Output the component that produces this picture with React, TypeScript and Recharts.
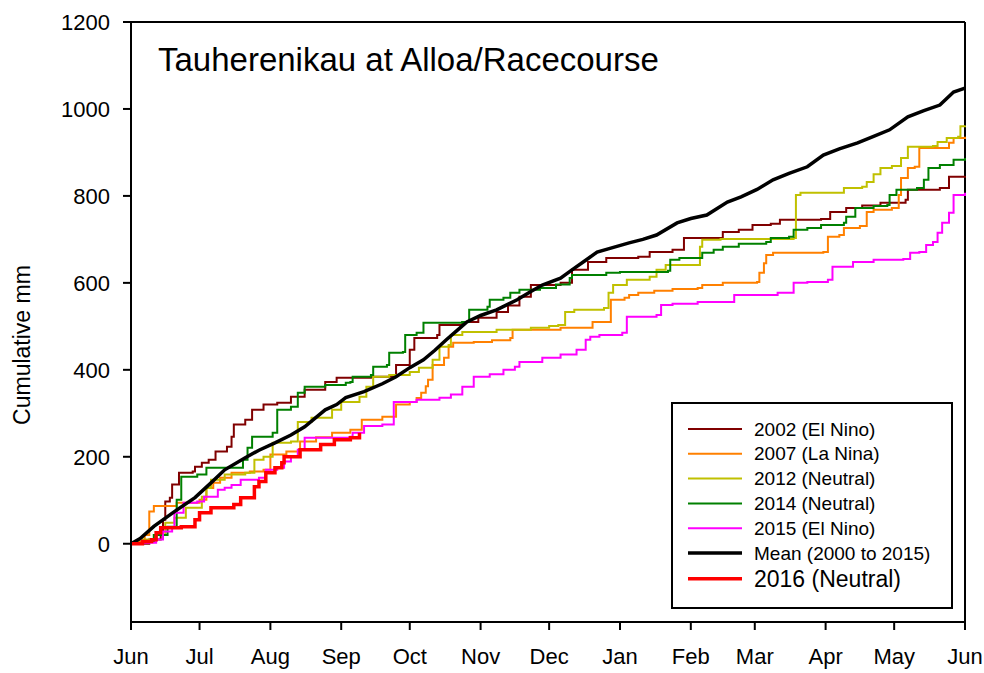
import { LineChart, Line, XAxis, YAxis, ReferenceLine, Legend } from 'recharts';

// day of season (0 = 1 June) vs cumulative rainfall (mm)
const monthTicks = [0, 30, 61, 92, 122, 153, 183, 214, 245, 273, 304, 334, 365];
const monthLabels = ['Jun', 'Jul', 'Aug', 'Sep', 'Oct', 'Nov', 'Dec', 'Jan', 'Feb', 'Mar', 'Apr', 'May', 'Jun'];
const mmTicks = [0, 200, 400, 600, 800, 1000, 1200];

const y2002: [number, number][] = [
  [0, 0], [8, 10], [13, 30], [14, 55], [15, 97], [17, 106], [18, 136], [21, 163], [27, 166], [28, 177],
  [31, 186], [34, 193], [37, 212], [42, 223], [44, 246], [45, 274], [50, 285], [53, 308], [58, 320],
  [64, 324], [70, 338], [76, 354], [85, 372], [90, 382], [105, 384], [116, 411], [122, 446], [124, 473],
  [134, 480], [135, 503], [145, 510], [152, 520], [160, 533], [165, 548], [170, 568], [175, 595],
  [188, 600], [193, 630], [200, 648], [208, 657], [222, 660], [227, 671], [237, 676], [242, 703],
  [258, 703], [259, 717], [266, 722], [272, 733], [280, 736], [284, 745], [302, 747], [306, 763],
  [313, 772], [320, 778], [328, 784], [339, 791], [340, 814], [354, 818], [358, 844], [365, 846],
];

const y2007: [number, number][] = [
  [0, 0], [3, 5], [6, 20], [8, 74], [10, 87], [20, 94], [30, 101], [33, 128], [36, 140], [39, 152],
  [44, 163], [52, 166], [58, 170], [61, 205], [68, 212], [74, 235], [81, 245], [88, 255], [96, 262],
  [101, 285], [110, 292], [116, 320], [122, 326], [125, 335], [127, 347], [129, 362], [130, 377],
  [132, 411], [137, 428], [139, 453], [141, 462], [150, 464], [158, 468], [166, 473], [167, 492],
  [188, 497], [200, 497], [202, 510], [209, 510], [210, 561], [216, 566], [218, 572], [222, 577],
  [229, 582], [237, 586], [248, 588], [250, 595], [259, 600], [274, 602], [275, 623], [277, 645],
  [278, 664], [281, 669], [303, 671], [305, 706], [310, 710], [312, 726], [319, 731], [322, 763],
  [325, 768], [333, 772], [336, 802], [337, 841], [340, 864], [343, 867], [345, 910], [354, 910],
  [358, 922], [360, 933], [365, 936],
];

const y2012: [number, number][] = [
  [0, 0], [5, 10], [10, 20], [15, 48], [19, 60], [24, 83], [31, 108], [33, 128], [35, 147], [41, 159],
  [50, 163], [54, 193], [58, 200], [62, 232], [70, 235], [73, 280], [79, 290], [88, 308], [92, 326],
  [100, 338], [103, 361], [106, 384], [113, 388], [122, 395], [126, 405], [132, 423], [135, 453],
  [139, 457], [140, 480], [145, 487], [160, 492], [175, 497], [183, 501], [187, 503], [190, 533],
  [194, 538], [207, 542], [209, 577], [211, 595], [217, 607], [227, 614], [230, 630], [234, 641],
  [247, 641], [249, 683], [250, 699], [258, 701], [290, 703], [291, 802], [293, 807], [309, 807],
  [312, 818], [320, 821], [322, 832], [325, 850], [328, 864], [333, 869], [337, 887], [340, 913],
  [351, 915], [353, 924], [357, 933], [362, 936], [363, 960], [365, 962],
];

const y2014: [number, number][] = [
  [0, 0], [5, 5], [10, 20], [16, 39], [18, 39], [20, 101], [22, 154], [29, 159], [33, 175], [42, 175],
  [49, 193], [51, 221], [53, 246], [62, 255], [64, 308], [70, 315], [73, 347], [76, 361], [85, 365],
  [94, 370], [96, 372], [97, 384], [105, 388], [106, 407], [112, 411], [113, 439], [119, 441],
  [120, 480], [125, 485], [128, 508], [145, 510], [148, 538], [156, 545], [157, 561], [163, 566],
  [166, 577], [170, 584], [179, 588], [186, 596], [192, 611], [193, 618], [208, 623], [214, 625],
  [235, 628], [236, 653], [240, 657], [249, 657], [250, 669], [255, 676], [259, 683], [266, 690],
  [278, 694], [280, 703], [288, 706], [290, 722], [296, 726], [302, 733], [312, 738], [313, 752],
  [317, 772], [325, 777], [331, 779], [332, 802], [335, 814], [344, 818], [347, 837], [349, 864],
  [354, 871], [360, 883], [365, 887],
];

const y2015: [number, number][] = [
  [0, 0], [5, 2], [11, 10], [14, 28], [18, 37], [19, 71], [23, 94], [29, 97], [32, 108], [38, 124],
  [41, 129], [44, 135], [48, 147], [56, 152], [59, 170], [64, 175], [67, 189], [70, 202], [73, 216],
  [76, 244], [96, 246], [97, 255], [102, 271], [110, 274], [115, 326], [125, 331], [135, 336],
  [140, 343], [145, 361], [150, 384], [157, 390], [163, 400], [168, 407], [170, 418], [180, 428],
  [188, 435], [195, 446], [199, 469], [201, 476], [205, 480], [215, 485], [217, 522], [230, 526],
  [232, 549], [237, 552], [248, 556], [262, 556], [264, 572], [283, 577], [290, 600], [296, 602],
  [305, 607], [307, 637], [316, 648], [325, 653], [338, 655], [341, 669], [345, 671], [348, 687],
  [351, 694], [353, 715], [355, 738], [358, 761], [360, 802], [365, 807],
];

const yMean: [number, number][] = [
  [0, 0], [4, 12], [10, 40], [19, 74], [28, 106], [35, 140], [41, 170], [50, 198], [56, 215],
  [63, 232], [70, 250], [76, 269], [85, 308], [90, 320], [94, 336], [102, 350], [110, 368],
  [116, 384], [122, 405], [128, 423], [133, 445], [138, 469], [143, 492], [147, 510], [153, 525],
  [160, 538], [169, 561], [175, 580], [180, 595], [188, 611], [193, 630], [199, 652], [204, 671],
  [210, 680], [218, 692], [224, 700], [230, 710], [239, 738], [245, 748], [252, 756], [261, 786],
  [267, 798], [274, 815], [281, 837], [288, 852], [296, 867], [303, 894], [310, 908], [318, 922],
  [325, 937], [332, 952], [340, 982], [347, 996], [354, 1009], [360, 1039], [365, 1048],
];

const y2016: [number, number][] = [
  [0, 0], [5, 5], [9, 9], [11, 25], [13, 37], [22, 39], [28, 55], [30, 71], [35, 83], [45, 90],
  [48, 106], [54, 131], [56, 143], [59, 163], [63, 175], [66, 186], [67, 200], [74, 216], [83, 228],
  [89, 239], [96, 244], [100, 255],
];

const series = [
  { name: '2002 (El Nino)', pts: y2002, color: '#800000', width: 2, step: true },
  { name: '2007 (La Nina)', pts: y2007, color: '#ff8000', width: 2, step: true },
  { name: '2012 (Neutral)', pts: y2012, color: '#c0c000', width: 2, step: true },
  { name: '2014 (Neutral)', pts: y2014, color: '#008000', width: 2, step: true },
  { name: '2015 (El Nino)', pts: y2015, color: '#ff00ff', width: 2, step: true },
  { name: 'Mean (2000 to 2015)', pts: yMean, color: '#000000', width: 3.5, step: false },
  { name: '2016 (Neutral)', pts: y2016, color: '#ff0000', width: 3.5, step: true },
];

const font = '"Liberation Sans", Arial, sans-serif';

function MonthTick(props: any) {
  const { x, y, payload } = props;
  return (
    <text x={x} y={y} dy={15.5} textAnchor="middle" fontSize={22} fontFamily={font} fill="#000">
      {monthLabels[monthTicks.indexOf(payload.value)]}
    </text>
  );
}

function LegendBox() {
  return (
    <svg width={282} height={207} style={{ display: 'block' }}>
      <rect x={1} y={1} width={280} height={205} fill="#fff" stroke="#000" strokeWidth={2} />
      {series.map((s, i) => {
        const last = i === series.length - 1;
        const cy = 27 + i * 24.8 + (last ? 1 : 0);
        return (
          <g key={s.name}>
            <line x1={17} x2={71} y1={cy} y2={cy} stroke={s.color} strokeWidth={s.width} />
            <text x={83} y={cy} dy="0.35em" fontSize={last ? 23 : 19} fontFamily={font} fill="#000">
              {s.name}
            </text>
          </g>
        );
      })}
    </svg>
  );
}

export default function App() {
  return (
    <div
      style={{
        position: 'absolute',
        left: 0,
        top: 0,
        width: 984,
        height: 673,
        background: '#fff',
        fontFamily: font,
      }}
    >
      <LineChart
        width={984}
        height={673}
        margin={{ top: 22, right: 19, left: 61, bottom: 0 }}
        style={{ overflow: 'visible' }}
      >
        <XAxis
          type="number"
          dataKey="d"
          domain={[0, 365]}
          ticks={monthTicks}
          height={51}
          stroke="#000"
          strokeWidth={2}
          tickSize={8}
          tickMargin={18}
          tick={MonthTick}
          allowDuplicatedCategory={false}
        />
        <YAxis
          type="number"
          dataKey="v"
          domain={[-180, 1200]}
          ticks={mmTicks}
          width={70}
          stroke="#000"
          strokeWidth={2}
          tickSize={8}
          tickMargin={13}
          tick={{ fill: '#000', fontSize: 22, fontFamily: font }}
          allowDataOverflow
        />
        <ReferenceLine y={1200} stroke="#000" strokeWidth={2} />
        <ReferenceLine x={365} stroke="#000" strokeWidth={2} />
        {series.map((s) => (
          <Line
            key={s.name}
            name={s.name}
            data={s.pts.map(([d, v]) => ({ d, v }))}
            dataKey="v"
            type={s.step ? 'stepAfter' : 'linear'}
            stroke={s.color}
            strokeWidth={s.width}
            dot={false}
            activeDot={false}
            isAnimationActive={false}
          />
        ))}
        <Legend
          layout="horizontal"
          verticalAlign="middle"
          align="center"
          content={() => <LegendBox />}
          wrapperStyle={{ left: 671, top: 402, width: 282, height: 207 }}
        />
      </LineChart>
      <div
        style={{
          position: 'absolute',
          left: 158,
          top: 40,
          fontSize: 33,
          lineHeight: '40px',
          color: '#000',
          whiteSpace: 'nowrap',
        }}
      >
        Tauherenikau at Alloa/Racecourse
      </div>
      <div
        style={{
          position: 'absolute',
          left: 22,
          top: 345,
          fontSize: 23,
          color: '#000',
          whiteSpace: 'nowrap',
          transform: 'translate(-50%, -50%) rotate(-90deg)',
        }}
      >
        Cumulative mm
      </div>
    </div>
  );
}
